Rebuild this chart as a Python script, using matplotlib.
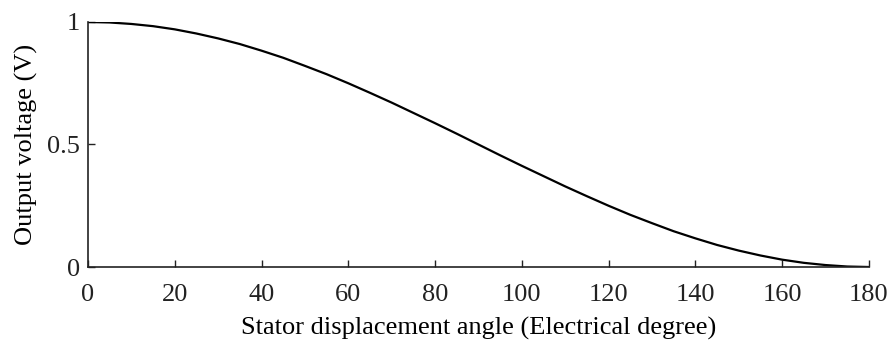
import numpy as np
from matplotlib import pyplot as plt

# output voltage, every 5 electrical degrees
angle = list(range(0, 185, 5))
voltage = [1.000, 0.998, 0.992, 0.983, 0.970, 0.953, 0.933, 0.910, 0.883,
           0.854, 0.821, 0.787, 0.750, 0.711, 0.671, 0.629, 0.587, 0.544,
           0.500, 0.456, 0.413, 0.371, 0.329, 0.289, 0.250, 0.213, 0.179,
           0.146, 0.117, 0.090, 0.067, 0.047, 0.030, 0.017, 0.008, 0.002,
           0.000]
xticks = [0, 20, 40, 60, 80, 100, 120, 140, 160, 180]
yticks = [0, 0.5, 1]
yticklabels = ['0', '0.5', '1']

plt.rcParams['font.family'] = ['Liberation Serif', 'DejaVu Serif']
plt.rcParams['font.size'] = 19

fig = plt.figure(figsize=(8.93, 3.41), dpi=100)
ax = fig.add_axes([0.0985, 0.217, 0.8745, 0.7185])
ax.plot(angle, voltage, 'k-', lw=1.6)

ax.set_xlim(0, 180)
ax.set_ylim(0, 1)
ax.set_xticks(xticks)
ax.set_yticks(yticks)
ax.set_yticklabels(yticklabels)
ax.tick_params(direction='in', length=5, width=1, colors='#222222')
ax.tick_params(axis='x', pad=12)
ax.tick_params(axis='y', pad=6)
ax.spines['top'].set_visible(False)
ax.spines['right'].set_visible(False)
for s in ('left', 'bottom'):
    ax.spines[s].set_linewidth(1.2)
    ax.spines[s].set_color('#222222')

ax.set_xlabel('Stator displacement angle (Electrical degree)', labelpad=8)
ax.set_ylabel('Output voltage (V)', labelpad=6)

fig.savefig('out.png', dpi=100)
